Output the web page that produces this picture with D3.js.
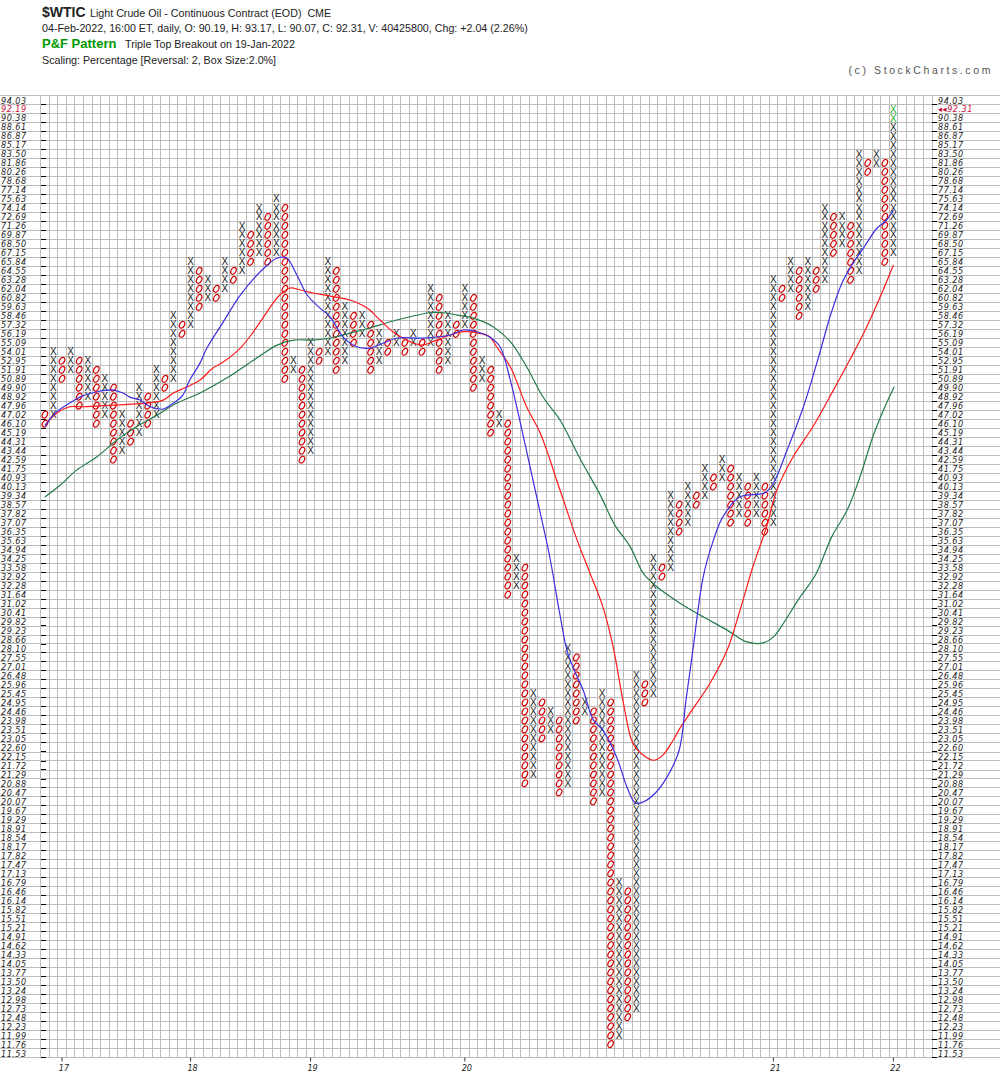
<!DOCTYPE html>
<html>
<head>
<meta charset="utf-8">
<script src="https://cdn.jsdelivr.net/npm/d3@7"></script>
<style>
body { margin: 0; background: #fff; }
svg { display: block; font-family: "Liberation Sans", Arial, sans-serif; }
</style>
</head>
<body>
<svg id="svg" width="1000" height="1086"></svg>
<script>
// box levels (2% boxes), also the y tick labels
const levels = [94.03, 92.19, 90.38, 88.61, 86.87, 85.17, 83.50, 81.86, 80.26, 78.68,
  77.14, 75.63, 74.14, 72.69, 71.26, 69.87, 68.50, 67.15, 65.84, 64.55,
  63.28, 62.04, 60.82, 59.63, 58.46, 57.32, 56.19, 55.09, 54.01, 52.95,
  51.91, 50.89, 49.90, 48.92, 47.96, 47.02, 46.10, 45.19, 44.31, 43.44,
  42.59, 41.75, 40.93, 40.13, 39.34, 38.57, 37.82, 37.07, 36.35, 35.63,
  34.94, 34.25, 33.58, 32.92, 32.28, 31.64, 31.02, 30.41, 29.82, 29.23,
  28.66, 28.10, 27.55, 27.01, 26.48, 25.96, 25.45, 24.95, 24.46, 23.98,
  23.51, 23.05, 22.60, 22.15, 21.72, 21.29, 20.88, 20.47, 20.07, 19.67,
  19.29, 18.91, 18.54, 18.17, 17.82, 17.47, 17.13, 16.79, 16.46, 16.14,
  15.82, 15.51, 15.21, 14.91, 14.62, 14.33, 14.05, 13.77, 13.50, 13.24,
  12.98, 12.73, 12.48, 12.23, 11.99, 11.76, 11.53];

// P&F columns, alternating, first one is a column of O's
const firstType = "O";
const colTop = [47.02, 54.01, 52.95, 54.01, 52.95, 52.95, 51.91, 50.89, 49.90, 47.02,
  46.10, 49.90, 48.92, 51.91, 50.89, 58.46, 57.32, 65.84, 64.55, 63.28,
  62.04, 65.84, 64.55, 71.26, 69.87, 74.14, 72.69, 75.63, 74.14, 52.95,
  51.91, 55.09, 54.01, 65.84, 64.55, 59.63, 58.46, 58.46, 57.32, 56.19,
  55.09, 56.19, 55.09, 56.19, 55.09, 62.04, 60.82, 58.46, 57.32, 62.04,
  60.82, 52.95, 51.91, 47.02, 46.10, 34.25, 33.58, 25.45, 24.95, 24.46,
  23.98, 28.10, 27.55, 24.95, 24.46, 25.45, 24.95, 16.79, 16.46, 26.48,
  25.96, 34.25, 33.58, 39.34, 38.57, 40.13, 39.34, 41.75, 40.93, 42.59,
  41.75, 40.93, 40.13, 40.93, 40.13, 63.28, 62.04, 65.84, 64.55, 65.84,
  64.55, 74.14, 72.69, 72.69, 71.26, 83.50, 81.86, 83.50, 81.86, 92.19];
const colBottom = [46.10, 47.02, 50.89, 51.91, 47.96, 48.92, 46.10, 47.02, 42.59, 43.44,
  44.31, 45.19, 46.10, 47.02, 49.90, 50.89, 56.19, 57.32, 59.63, 60.82,
  60.82, 62.04, 63.28, 64.55, 65.84, 67.15, 65.84, 67.15, 50.89, 51.91,
  42.59, 43.44, 52.95, 54.01, 51.91, 52.95, 55.09, 56.19, 51.91, 52.95,
  54.01, 55.09, 54.01, 55.09, 54.01, 55.09, 51.91, 52.95, 56.19, 57.32,
  49.90, 50.89, 45.19, 46.10, 31.64, 32.28, 20.88, 21.29, 23.05, 23.51,
  20.47, 20.88, 23.98, 24.46, 20.07, 20.47, 11.76, 11.99, 12.48, 12.73,
  24.95, 25.45, 32.92, 33.58, 36.35, 37.07, 38.57, 39.34, 40.13, 40.93,
  37.07, 37.82, 37.07, 37.82, 36.35, 37.07, 60.82, 62.04, 58.46, 59.63,
  62.04, 63.28, 67.15, 68.50, 63.28, 64.55, 80.26, 81.86, 65.84, 67.15];
const todayBoxes = [92.19, 90.38];
const lastClose = "92.31";

const yearCols = [2, 17, 31, 49, 85, 99];
const yearLabels = ["17", "18", "19", "20", "21", "22"];

// moving averages of the columns: [column, price]
const maBlue = [[0.0,45.79],[1.2,47.19],[2.9,48.24],[4.1,48.88],[6.1,49.46],[8.0,49.64],[9.1,49.32],
  [9.9,48.88],[11.1,48.56],[12.3,47.85],[13.8,47.61],[15.0,48.24],[16.1,49.10],[16.9,50.75],
  [18.1,52.68],[18.9,54.45],[20.8,57.66],[22.8,61.20],[25.1,64.38],[27.1,66.39],[28.2,66.39],
  [29.4,63.95],[30.6,61.20],[32.1,59.46],[33.3,58.30],[34.8,55.79],[36.4,54.61],[37.9,54.45],
  [39.5,55.06],[41.1,55.67],[44.1,55.67],[47.3,56.04],[48.8,56.66],[50.4,56.45],[51.9,55.79],
  [53.1,54.61],[54.3,50.75],[55.4,46.47],[56.6,41.93],[57.8,37.86],[58.9,34.39],[60.1,30.24],
  [61.0,27.81],[62.1,26.40],[62.8,25.64],[64.0,24.00],[65.1,23.47],[66.7,22.13],[67.9,20.72],
  [68.9,19.99],[69.8,20.04],[71.2,20.43],[72.6,21.18],[74.0,22.46],[74.8,25.08],[75.6,28.00],
  [76.8,32.88],[78.0,35.67],[79.1,37.55],[81.1,39.24],[84.0,39.59],[85.0,40.45],[86.6,43.50],
  [88.5,47.85],[90.4,53.86],[91.6,58.34],[93.0,62.84],[94.3,65.67],[95.5,67.87],[97.1,70.93],
  [98.2,72.19],[99.0,73.80]];
const maRed = [[0.0,45.96],[1.4,47.19],[2.9,47.85],[4.5,47.85],[8.0,48.03],[11.9,48.24],[13.8,48.56],
  [15.0,49.32],[16.6,50.00],[18.1,50.75],[19.6,52.11],[20.8,52.80],[22.8,54.45],[24.3,56.41],
  [25.9,58.95],[27.4,61.20],[28.6,62.15],[29.8,61.88],[31.3,61.47],[33.3,61.06],[35.6,60.53],
  [37.6,59.46],[39.1,57.92],[40.6,56.45],[42.2,55.42],[44.0,54.81],[45.7,55.42],[47.3,56.04],
  [48.8,56.45],[50.4,56.32],[51.9,55.83],[52.7,54.61],[54.3,52.26],[56.2,47.85],[57.8,45.13],
  [60.1,39.83],[62.1,35.67],[63.6,33.17],[65.1,30.80],[66.3,28.20],[67.5,24.91],[68.6,22.81],
  [69.8,22.22],[71.0,21.97],[72.1,22.22],[73.3,22.96],[74.1,23.58],[75.5,24.53],[77.6,26.03],
  [79.6,28.00],[81.1,30.57],[82.6,33.64],[84.2,36.73],[85.4,39.83],[87.3,42.86],[89.6,45.79],
  [92.0,49.64],[93.9,53.03],[95.9,57.07],[97.8,61.88],[99.0,65.38]];
const maGreen = [[0.0,39.22],[1.8,40.27],[3.7,41.62],[6.1,42.86],[8.4,44.47],[10.7,45.79],[13.1,46.98],
  [15.4,48.24],[18.1,49.32],[21.2,50.97],[24.7,53.27],[27.1,54.81],[29.0,55.42],[31.3,55.42],
  [33.3,55.67],[35.6,56.28],[37.9,56.91],[40.3,57.70],[42.6,58.34],[44.9,58.86],[46.5,58.86],
  [48.1,58.56],[50.0,58.17],[52.3,57.07],[54.3,55.22],[56.2,52.26],[58.1,48.92],[60.1,46.47],
  [62.4,42.74],[64.8,39.39],[66.5,36.87],[68.3,35.15],[69.8,33.17],[71.4,32.19],[74.1,31.05],
  [76.8,30.13],[79.6,29.26],[81.9,28.51],[83.8,28.45],[85.0,28.83],[85.8,29.39],[88.1,31.46],
  [89.9,33.03],[91.8,35.93],[93.6,38.11],[95.1,41.01],[96.6,44.79],[98.2,48.24],[99.1,50.00]];

// layout
const plotL = 40.6, plotR = 932, nCols = 104;
const svg = d3.select('#svg');
const x = d3.scaleLinear().domain([0, nCols]).range([plotL, plotR]);
const y = d3.scaleLog().domain([levels[0], levels[levels.length - 1]]).range([100, 1053]);
const rowH = (y(levels[levels.length - 1]) - y(levels[0])) / (levels.length - 1);
const plotT = y(levels[0]) - rowH / 2, plotB = y(levels[levels.length - 1]) + rowH / 2;
const cx = c => x(c + 0.5);

// header
const hs = 10.7;
const head = svg.append('g').attr('fill', '#222');
head.append('text').attr('x', 42).attr('y', 17).attr('font-size', 14).attr('font-weight', 'bold').text('$WTIC');
head.append('text').attr('x', 90).attr('y', 16.5).attr('font-size', hs)
  .text('Light Crude Oil - Continuous Contract (EOD)\u00a0\u00a0CME');
head.append('text').attr('x', 42).attr('y', 31.5).attr('font-size', hs)
  .text('04-Feb-2022, 16:00 ET, daily, O: 90.19, H: 93.17, L: 90.07, C: 92.31, V: 40425800, Chg: +2.04 (2.26%)');
head.append('text').attr('x', 42).attr('y', 48).attr('font-size', 13).attr('font-weight', 'bold').attr('fill', '#009900').text('P&F Pattern');
head.append('text').attr('x', 125).attr('y', 47.5).attr('font-size', hs).text('Triple Top Breakout on 19-Jan-2022');
head.append('text').attr('x', 42).attr('y', 64.3).attr('font-size', hs).text('Scaling: Percentage [Reversal: 2, Box Size:2.0%]');
head.append('text').attr('x', 993).attr('y', 74).attr('font-size', 10.5).attr('text-anchor', 'end')
  .attr('fill', '#555').attr('letter-spacing', 2.6).text('(c) StockCharts.com');

// grid
const grid = svg.append('g').attr('stroke', '#bcbcbc').attr('stroke-width', 1).attr('shape-rendering', 'crispEdges');
const bounds = levels.map(v => y(v) - rowH / 2).concat([plotB]);
grid.selectAll('.h').data(bounds).enter().append('line')
  .attr('x1', 0).attr('x2', 1000).attr('y1', d => d).attr('y2', d => d);
grid.selectAll('.v').data(d3.range(nCols + 1)).enter().append('line')
  .attr('x1', d => x(d)).attr('x2', d => x(d)).attr('y1', plotT).attr('y2', plotB);

// ticks + labels
const axisG = svg.append('g').attr('shape-rendering', 'crispEdges');
axisG.selectAll('.tl').data(levels).enter().append('line')
  .attr('x1', plotL).attr('x2', plotL + 5).attr('y1', d => y(d) + rowH / 2).attr('y2', d => y(d) + rowH / 2)
  .attr('stroke', '#000');
axisG.selectAll('.tr').data(levels).enter().append('line')
  .attr('x1', plotR).attr('x2', plotR + 5).attr('y1', d => y(d) + rowH / 2).attr('y2', d => y(d) + rowH / 2)
  .attr('stroke', '#000');

const lblFont = '"DejaVu Sans Condensed", "DejaVu Sans", sans-serif';
svg.append('g').selectAll('text').data(levels).enter().append('text')
  .attr('x', 1).attr('y', d => y(d) + 3.5)
  .attr('font-family', lblFont).attr('font-size', 9).attr('font-style', 'italic').attr('letter-spacing', 0.5)
  .attr('fill', (d, i) => i === 1 ? '#c8103c' : '#222')
  .text(d => d.toFixed(2));
svg.append('g').selectAll('text').data(levels).enter().append('text')
  .attr('x', plotR + 6).attr('y', d => y(d) + 3.5)
  .attr('font-family', lblFont).attr('font-size', 9).attr('font-style', 'italic').attr('letter-spacing', 0.5)
  .attr('fill', (d, i) => i === 1 ? '#c8103c' : '#222')
  .text((d, i) => i === 1 ? '\u25C2\u25C2' + lastClose : d.toFixed(2));

// year markers
svg.append('g').selectAll('line').data(yearCols).enter().append('line')
  .attr('x1', d => cx(d)).attr('x2', d => cx(d)).attr('y1', plotB).attr('y2', plotB + 4)
  .attr('stroke', '#333');
svg.append('g').selectAll('text').data(yearCols).enter().append('text')
  .attr('x', d => cx(d) + 2).attr('y', plotB + 14).attr('text-anchor', 'middle')
  .attr('font-family', lblFont).attr('font-size', 9).attr('font-style', 'italic').attr('fill', '#222')
  .text((d, i) => yearLabels[i]);

// boxes
const boxes = [];
colTop.forEach((t, i) => {
  const type = (i % 2 === 0) === (firstType === 'O') ? 'O' : 'X';
  const a = levels.indexOf(t), b = levels.indexOf(colBottom[i]);
  for (let k = a; k <= b; k++) {
    boxes.push({ col: i, price: levels[k], type: type,
      today: i === colTop.length - 1 && todayBoxes.includes(levels[k]) });
  }
});

// O marks: slanted red ovals
svg.append('g').selectAll('ellipse').data(boxes.filter(d => d.type === 'O')).enter().append('ellipse')
  .attr('cx', d => cx(d.col)).attr('cy', d => y(d.price))
  .attr('rx', 2.4).attr('ry', 3.6)
  .attr('transform', d => `rotate(28, ${cx(d.col)}, ${y(d.price)})`)
  .attr('fill', 'none').attr('stroke', '#d40000').attr('stroke-width', 1.2);

// X marks
svg.append('g').selectAll('text').data(boxes.filter(d => d.type === 'X')).enter().append('text')
  .attr('x', d => cx(d.col)).attr('y', d => y(d.price) + 3.6)
  .attr('text-anchor', 'middle').attr('font-size', 10)
  .attr('fill', d => d.today ? '#22b322' : '#222')
  .text('X');

// moving averages
const maLine = d3.line().x(d => cx(d[0])).y(d => y(d[1])).curve(d3.curveCatmullRom);
[[maGreen, '#237a4a'], [maRed, '#ff1a1a'], [maBlue, '#3d2fe0']].forEach(([data, color]) => {
  svg.append('path').attr('d', maLine(data)).attr('fill', 'none')
    .attr('stroke', color).attr('stroke-width', 1.2);
});
</script>
</body>
</html>
